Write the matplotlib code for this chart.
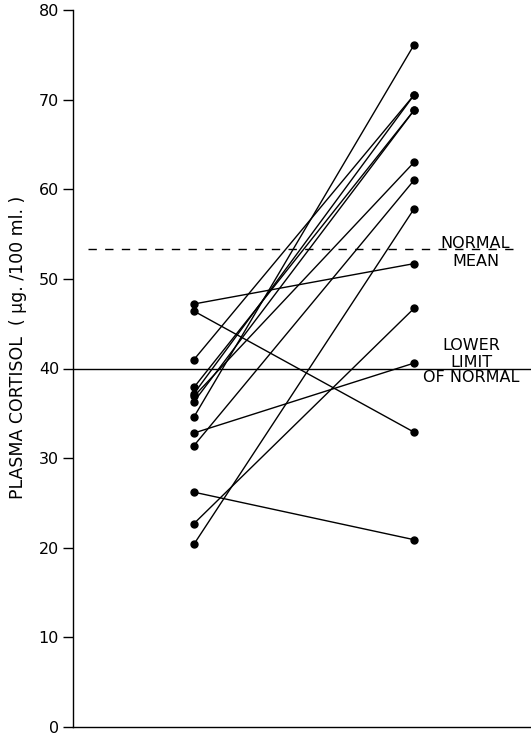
import numpy as np
import matplotlib
matplotlib.use('Agg')
import matplotlib.pyplot as plt

# plasma cortisol before / after, one pair per patient
before = [47.2, 46.4, 41.0, 37.9, 37.2, 36.9, 36.3, 34.6, 32.8, 31.4, 26.2, 22.7, 20.4]
after  = [51.7, 32.9, 70.5, 68.8, 70.5, 63.0, 68.8, 76.1, 40.6, 61.0, 20.9, 46.7, 57.8]

normal_mean  = 53.3
lower_limit  = 40.0
yticks       = [0, 10, 20, 30, 40, 50, 60, 70, 80]
ylabel       = "PLASMA CORTISOL  ( \u00b5g. /100 ml. )"

plt.rcParams['font.family'] = ['DejaVu Sans']

fig = plt.figure(figsize=(5.31, 7.35), dpi=100)
ax = fig.add_axes([73/531, 8/735, 1 - 73/531, 717/735])

# patient lines
for b, a in zip(before, after):
    ax.plot([0, 1], [b, a], color='black', linewidth=1.0,
            marker='o', markersize=5, solid_capstyle='round')

# reference lines
ax.plot([-0.482, 1.48], [normal_mean, normal_mean], color='black',
        linewidth=1.0, dashes=(6, 6))
ax.axhline(lower_limit, color='black', linewidth=1.0)

ax.text(1.28, normal_mean + 0.15, "NORMAL", ha='center', va='baseline', fontsize=11.5)
ax.text(1.28, normal_mean - 0.55, "MEAN", ha='center', va='top', fontsize=11.5)
ax.text(1.26, lower_limit + 2.05, "LOWER", ha='center', va='baseline', fontsize=11.5)
ax.text(1.26, lower_limit + 0.2, "LIMIT", ha='center', va='baseline', fontsize=11.5)
ax.text(1.26, lower_limit - 0.15, "OF NORMAL", ha='center', va='top', fontsize=11.5)

ax.set_xlim(-0.55, 1.532)
ax.set_ylim(0, 80)
ax.set_yticks(yticks)
ax.set_xticks([])
ax.tick_params(axis='y', direction='out', length=7, width=1.0, labelsize=11.5, pad=3)
ax.set_ylabel(ylabel, fontsize=12.5)
ax.yaxis.set_label_coords(-0.1, 0.53)
ax.spines['top'].set_visible(False)
ax.spines['right'].set_visible(False)
ax.spines['left'].set_linewidth(1.0)
ax.spines['bottom'].set_linewidth(1.0)
ax.patch.set_visible(False)

fig.savefig('out.png', dpi=100)
